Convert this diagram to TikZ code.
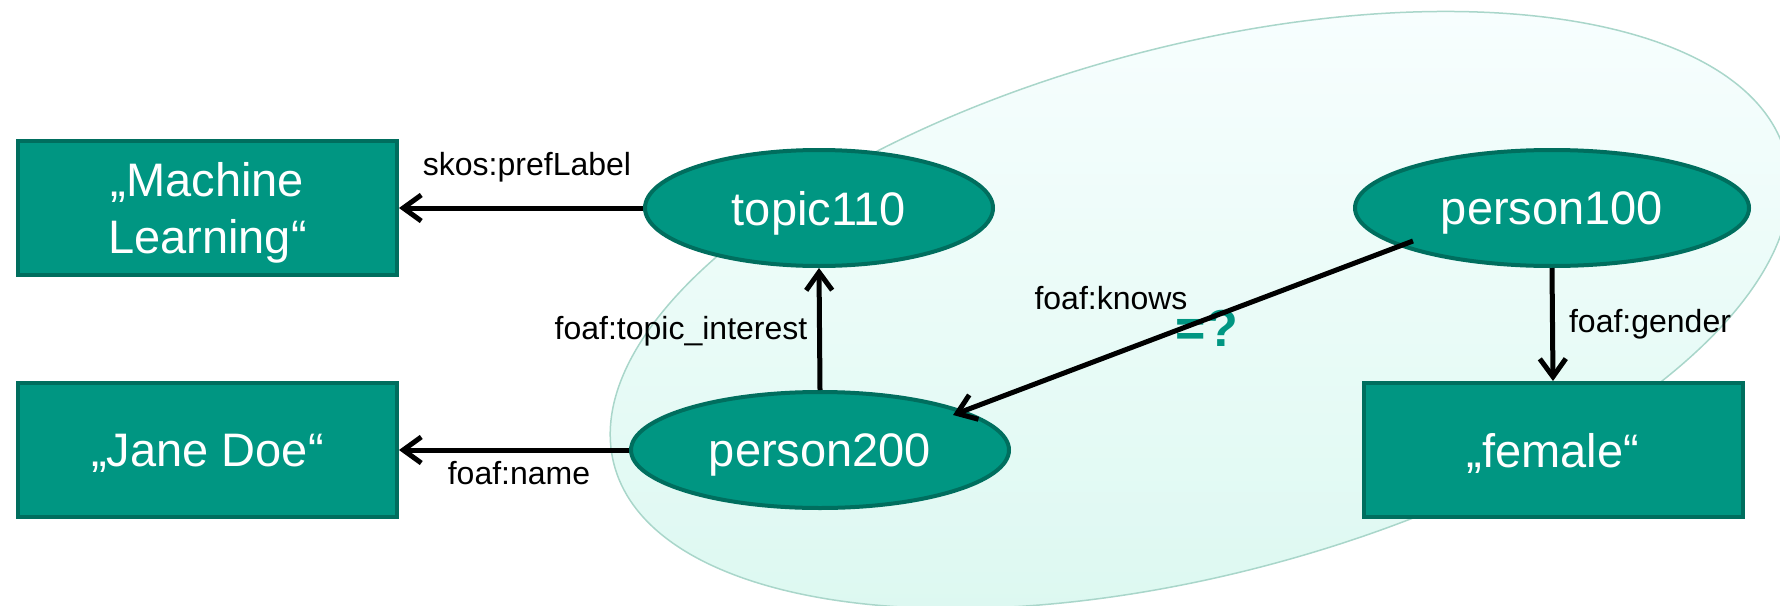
\documentclass[tikz,border=0pt]{standalone}
\usepackage{fontspec}
\setmainfont{Liberation Sans}
\usetikzlibrary{arrows.meta,calc,shapes.geometric}
\definecolor{tealfill}{HTML}{009682}
\definecolor{tealline}{HTML}{006E5E}
\definecolor{ellline}{HTML}{A9D6CA}
\definecolor{elltop}{HTML}{F7FEFE}
\definecolor{ellbot}{HTML}{DBF8F0}
\begin{document}
\begin{tikzpicture}[x=1pt,y=-1pt,
  lit/.style={rectangle, fill=tealfill, draw=tealline, line width=4pt, text=white,
    font=\fontsize{47}{57}\selectfont, align=center, minimum width=379pt,
    minimum height=134pt, inner sep=0pt, text depth=0pt},
  res/.style={ellipse, fill=tealfill, draw=tealline, line width=4pt, text=white,
    font=\fontsize{47}{57}\selectfont, minimum height=116pt, inner sep=0pt,
    text depth=0pt},
  edge/.style={draw=black, line width=5pt, -{Straight Barb[length=18pt,width=26pt]}},
  lab/.style={font=\fontsize{32}{38}\selectfont, inner sep=0pt, text=black},
  bigell/.style={draw=ellline, line width=1.5pt, top color=elltop, bottom color=ellbot}]
\useasboundingbox (0,0) rectangle (1780,605);
\begin{scope}
  \clip (0,0) rectangle (1780,605);
  \path[bigell] (1200,310) ellipse [x radius=606, y radius=264, rotate=14.8];
\end{scope}

\node[lit] (ml) at (207.5,208) {„Machine\\Learning“};
\node[lit] (jd) at (207.5,450) {„Jane Doe“};
\node[lit] (fe) at (1553,450) {„female“};
\node[res, minimum width=348pt] (t110) at (819,208) {topic110};
\node[res, minimum width=378pt] (p200) at (820,450) {person200};
\node[res, minimum width=394pt] (p100) at (1552,208) {person100};

\node[font=\fontsize{52}{52}\selectfont\bfseries, text=tealfill, inner sep=0pt] (eq) at (1207,328) {=?};

\draw[edge] (t110.west) -- (ml.east);
\draw[edge] (p200.west) -- (jd.east);
\draw[edge] (p200.north) -- (t110.south);
\draw[edge] ($(p100.center)+(-139,33)$) -- ($(p200.center)+(133,-35)$);
\draw[edge] (p100.south) -- (fe.north);

\node[lab] (l1) at (527,167) {skos:prefLabel};
\node[lab] (l2) at (681,331) {foaf:topic\_interest};
\node[lab] (l3) at (519,473) {foaf:name};
\node[lab] (l4) at (1111,298) {foaf:knows};
\node[lab] (l5) at (1650,324) {foaf:gender};
\end{tikzpicture}
\end{document}
